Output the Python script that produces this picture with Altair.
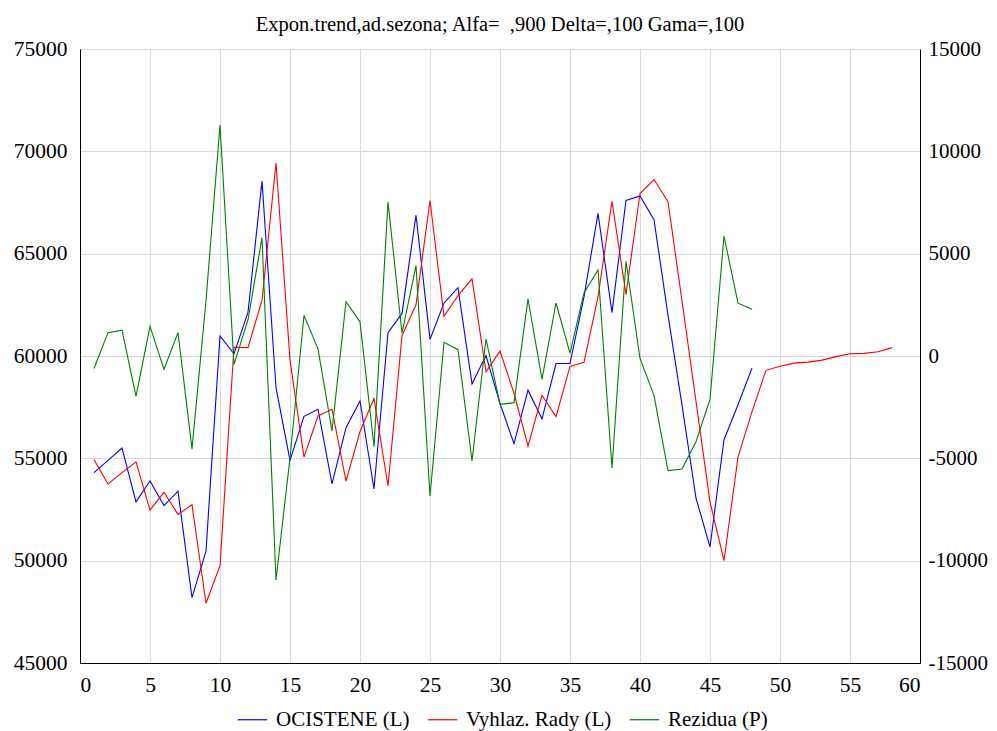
import altair as alt
import pandas as pd

t_all = list(range(1, 59))

ocistene = [54300, 54900, 55500, 52870, 53890, 52690, 53400, 48190, 50470, 60980,
            60100, 62140, 68550, 58450, 54900, 57050, 57400, 53750, 56500, 57800,
            53500, 61140, 62080, 66880, 60810, 62590, 63340, 58640, 60020, 57680,
            55720, 58330, 56930, 59630, 59630, 62890, 66970, 62120, 67600, 67820,
            66660, 62000, 57600, 53060, 50670, 55910, 57620, 59410]

vyhlaz = [54930, 53750, 54300, 54830, 52470, 53340, 52260, 52730, 47920, 49760,
          60430, 60410, 62730, 69430, 59800, 55060, 57070, 57400, 53890, 56310,
          57920, 53650, 61000, 62500, 67600, 61940, 62950, 63770, 59230, 60240,
          58180, 55590, 58080, 57040, 59490, 59690, 62890, 67560, 63010, 67940,
          68620, 67540, 62690, 57780, 52870, 50000, 55060, 57280, 59300, 59500,
          59650, 59700, 59800, 59970, 60110, 60130, 60210, 60410]

rezidua = [-610, 1140, 1260, -1970, 1450, -650, 1140, -4540, 2700, 11280,
           -410, 1770, 5780, -10940, -4970, 1980, 350, -3660, 2650, 1670,
           -4430, 7520, 1120, 4420, -6840, 670, 310, -5130, 830, -2360,
           -2280, 2790, -1140, 2590, 140, 3080, 4200, -5470, 4630, -120,
           -1920, -5600, -5520, -4190, -2120, 5860, 2580, 2280]

series_names = ["OCISTENE (L)", "Vyhlaz. Rady (L)", "Rezidua (P)"]
series_colors = ["#0000ff", "#ff0000", "#008000"]

x_ticks = list(range(0, 61, 5))
left_ticks = list(range(45000, 75001, 5000))
right_ticks = list(range(-15000, 15001, 5000))

title_text = "Expon.trend,ad.sezona; Alfa=\u00a0 ,900 Delta=,100 Gama=,100"

left_df = pd.concat([
    pd.DataFrame({"t": t_all[:len(ocistene)], "value": ocistene, "series": series_names[0]}),
    pd.DataFrame({"t": t_all[:len(vyhlaz)], "value": vyhlaz, "series": series_names[1]}),
])
right_df = pd.DataFrame({"t": t_all[:len(rezidua)], "value": rezidua, "series": series_names[2]})

FONT = "Liberation Serif, Times New Roman, serif"
AX = dict(labelFont=FONT, labelColor="black", tickSize=0,
          domainColor="black", gridColor="#d9d9d9", gridWidth=1, title=None)

color = alt.Color(
    "series:N",
    scale=alt.Scale(domain=series_names, range=series_colors),
    legend=alt.Legend(
        title=None, orient="none", direction="horizontal",
        legendX=157, legendY=655,
        symbolType="stroke", symbolSize=870, symbolStrokeWidth=1.2,
        labelFont=FONT, labelFontSize=21, labelColor="black",
        labelOffset=8, columnPadding=15,
    ),
)

x_enc = alt.X(
    "t:Q",
    scale=alt.Scale(domain=[0, 60], nice=False, zero=False),
    axis=alt.Axis(values=x_ticks, grid=True, labelPadding=11, format="d",
                  labelFontSize=21.5, **AX),
)

left = alt.Chart(left_df).mark_line(strokeWidth=1.1).encode(
    x=x_enc,
    y=alt.Y("value:Q",
            scale=alt.Scale(domain=[45000, 75000], nice=False, zero=False),
            axis=alt.Axis(values=left_ticks, grid=True, orient="left",
                          labelPadding=13, format="d", labelFontSize=21.5, **AX)),
    color=color,
    detail="series:N",
    order="t:Q",
)

right = alt.Chart(right_df).mark_line(strokeWidth=1.1).encode(
    x=x_enc,
    y=alt.Y("value:Q",
            scale=alt.Scale(domain=[-15000, 15000], nice=False, zero=False),
            axis=alt.Axis(values=right_ticks, grid=False, orient="right",
                          labelPadding=8, labelFontSize=21,
                          labelExpr="datum.value < 0 ? '-' + format(-datum.value, 'd') : format(datum.value, 'd')",
                          **AX)),
    color=color,
    order="t:Q",
)

chart = alt.layer(left, right).resolve_scale(y="independent").properties(
    width=840,
    height=614,
    title=alt.TitleParams(title_text, font=FONT, fontSize=20.5, fontWeight="normal",
                          color="black", anchor="middle", offset=3),
    autosize=alt.AutoSizeParams(type="none"),
    padding={"left": 72, "top": 41, "right": 69, "bottom": 68},
).configure(
    background="white",
).configure_view(
    stroke="black", strokeWidth=1,
).configure_axis(
    labelFont=FONT,
)

chart.save("out.html", embed_options={"renderer": "svg", "actions": False})
